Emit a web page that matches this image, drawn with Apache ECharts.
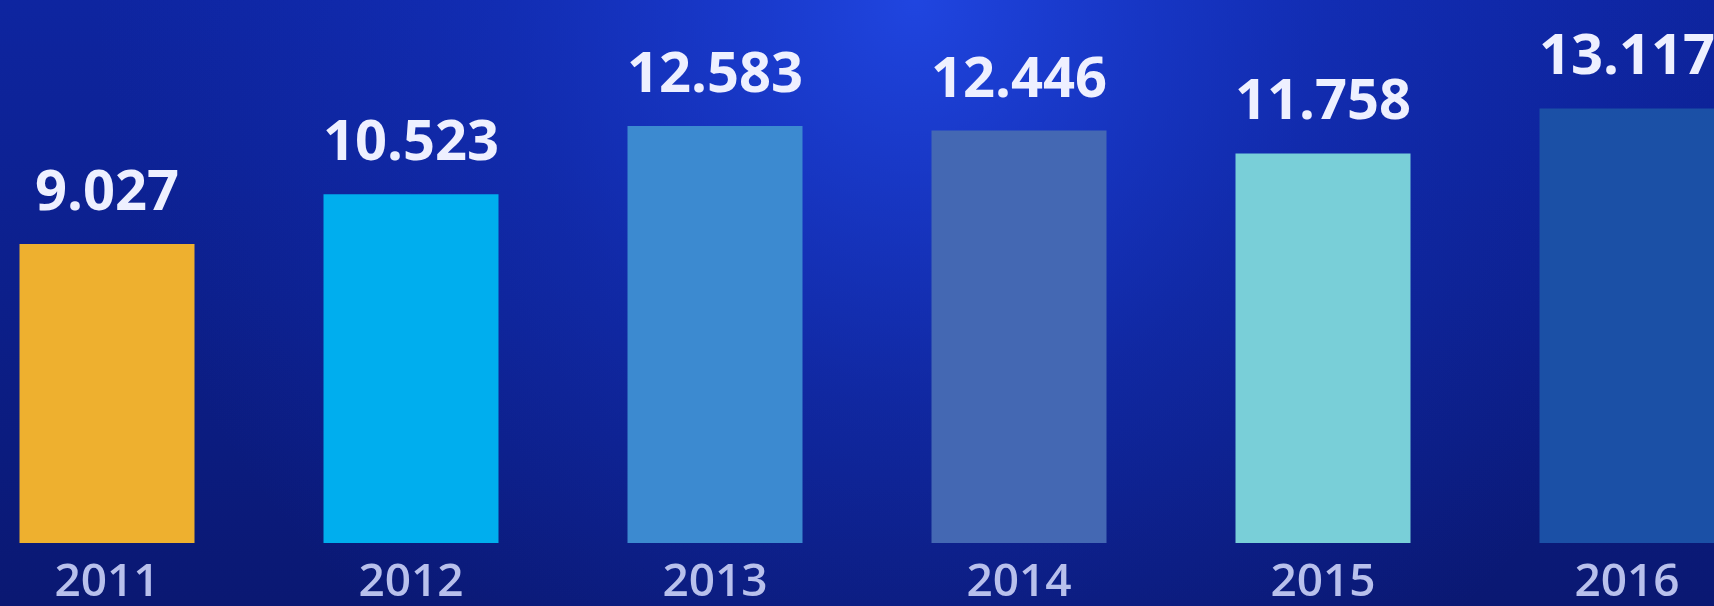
<!DOCTYPE html>
<html>
<head>
<meta charset="utf-8">
<style>
html,body{margin:0;padding:0;width:1714px;height:606px;overflow:hidden;background:#0b1a70;position:relative;}
#chart{position:absolute;left:-45px;top:0;width:1824px;height:606px;}
</style>
<script src="https://cdn.jsdelivr.net/npm/echarts@6/dist/echarts.min.js"></script>
</head>
<body>
<div id="chart"></div>
<script>
const years = ['2011', '2012', '2013', '2014', '2015', '2016'];
const values = [9.027, 10.523, 12.583, 12.446, 11.758, 13.117];
const labels = ['9.027', '10.523', '12.583', '12.446', '11.758', '13.117'];
const barColors = ['#eeb02f', '#00aeee', '#3c8ad0', '#4468b3', '#79cfd8', '#1b50a6'];

const chart = echarts.init(document.getElementById('chart'));
chart.setOption({
  backgroundColor: {
    type: 'linear', x: 0, y: 0, x2: 0, y2: 1,
    colorStops: [
      {offset: 0, color: '#0e25a0'},
      {offset: 0.5, color: '#0c1f8a'},
      {offset: 1, color: '#0a1872'}
    ]
  },
  animation: false,
  graphic: [{
    type: 'rect', z: -10, silent: true,
    shape: {x: 0, y: 0, width: 1824, height: 606},
    style: {
      fill: {
        type: 'radial', x: 960, y: 0, r: 820, global: true,
        colorStops: [
          {offset: 0, color: 'rgba(35,75,235,0.85)'},
          {offset: 0.5, color: 'rgba(25,60,215,0.35)'},
          {offset: 1, color: 'rgba(20,50,200,0)'}
        ]
      }
    }
  }],
  grid: {left: 0, right: 0, top: 46, bottom: 63, containLabel: false},
  xAxis: {
    type: 'category',
    data: years,
    axisLine: {show: false},
    axisTick: {show: false},
    axisLabel: {
      color: '#b8c0ec',
      fontSize: 46,
      fontFamily: 'Open Sans',
      fontWeight: 600,
      margin: 17
    }
  },
  yAxis: {
    type: 'value', min: 0, max: 15,
    show: false,
    splitLine: {show: false}
  },
  series: [{
    type: 'bar',
    z: 2,
    data: values.map((v, i) => ({value: v, itemStyle: {color: barColors[i]}})),
    barWidth: 175,
    label: {
      show: true,
      position: 'top',
      distance: 22,
      color: '#eef0ff',
      fontSize: 56,
      fontWeight: 'bold',
      fontFamily: 'Open Sans',
      formatter: p => labels[p.dataIndex]
    }
  }]
});
</script>
</body>
</html>
